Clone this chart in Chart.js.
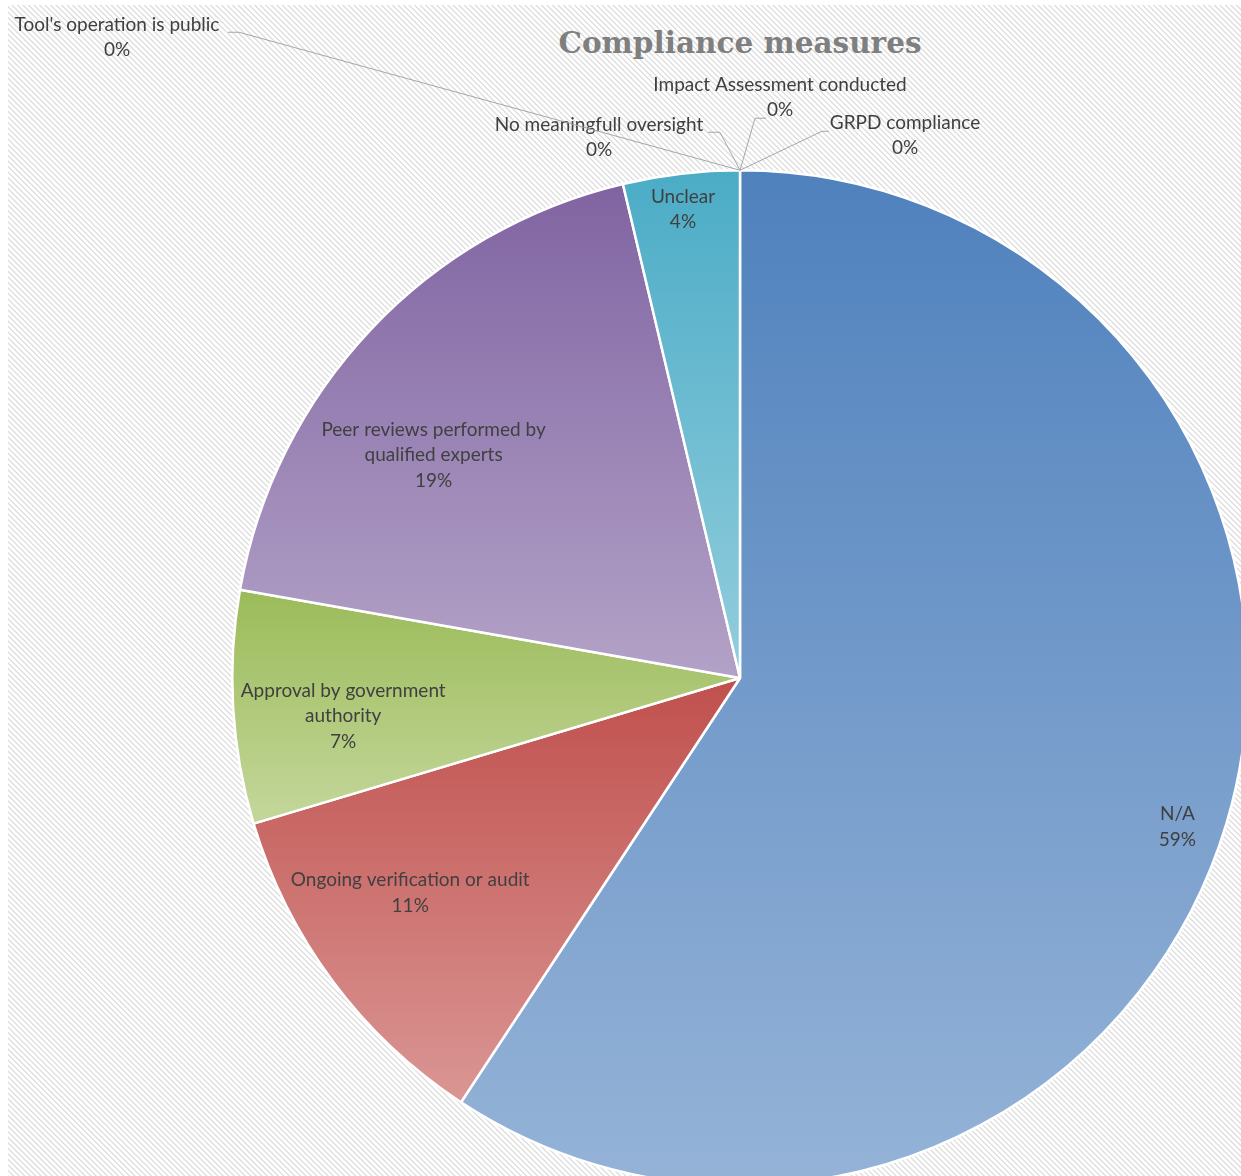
<!DOCTYPE html>
<html>
<head>
<meta charset="utf-8">
<title>Compliance measures</title>
<script src="https://cdn.jsdelivr.net/npm/chart.js@4.4.0/dist/chart.umd.min.js"></script>
<style>
body{margin:0;width:1241px;height:1176px;overflow:hidden;background:#fff;position:relative}
#bg{position:absolute;left:8px;top:5px;width:1240px;height:1180px;
background:repeating-linear-gradient(45deg,#ffffff 0px,#ffffff 1.5px,#dddddd 2.3px,#dddddd 2.8px,#ffffff 3.6px,#ffffff 3.9px)}
#title{position:absolute;left:490px;width:500px;top:26px;text-align:center;
font:bold 29.5px "DejaVu Serif";line-height:34px;color:#7f7f7f}
#wrap{position:absolute;left:0;top:0;width:1300px;height:1260px}
</style>
</head>
<body>
<div id="bg"></div>
<div id="title">Compliance measures</div>
<div id="wrap"><canvas id="pie"></canvas></div>
<script>

// categories and counts (clockwise from 12 o'clock)
const categories = [
'N/A',
'Ongoing verification or audit',
['Approval by government','authority'],
['Peer reviews performed by','qualified experts'],
'Unclear',
'No meaningfull oversight',
"Tool's operation is public",
'Impact Assessment conducted',
'GRPD compliance'
]
const counts = [16, 3, 2, 5, 1, 0, 0, 0, 0]

// each slice fades from its top colour to its bottom colour
const topColors    = ['#4f81bd','#c0504d','#9bbb59','#8064a2','#4bacc6','#f79646','#2c4d75','#772c2a','#5f7530']
const bottomColors = ['#95b3d7','#da9694','#c4d79b','#b3a2c7','#93cddd','#fac090','#8eb4e3','#e6b9b8','#d7e4bd']

// label placement inside the slices: [fraction along the arc, fraction of radius]
const labelSpot = [[0.51,0.91],[0.59,0.775],[0.42,0.785],[0.39,0.746],[0.48,0.93]]

// zero slices sit on the top edge, their labels are pulled out with leader lines
// (offsets from the point where the empty slices sit)
const zeroSpot = {
5: {dx:-141, dy:-33, stub:[[-32,-38],[-20,-38]]},
6: {dx:-623, dy:-133, stub:[[-512,-138],[-501,-138]]},
7: {dx:40, dy:-73, stub:[[26,-52],[15,-52]]},
8: {dx:165, dy:-35, stub:[[89,-39],[82,-39]]}
}

const total = counts.reduce((a,b)=>a+b,0)
const LABEL_FONT = '19px Lato'
const LINE_H = 25.5

function arcExtent(arc){
const {x, y, startAngle, endAngle, outerRadius} = arc
const ys = [y, y + outerRadius*Math.sin(startAngle), y + outerRadius*Math.sin(endAngle)]
for(let k=-2;k<=2;k++){
const down = Math.PI/2 + 2*Math.PI*k
const up = -Math.PI/2 + 2*Math.PI*k
if(down>=startAngle && down<=endAngle) ys.push(y+outerRadius)
if(up>=startAngle && up<=endAngle) ys.push(y-outerRadius)
}
return {top:Math.min(...ys), bottom:Math.max(...ys)}
}

function drawBlock(ctx, lines, cx, cy){
const h = LINE_H*(lines.length-1)
lines.forEach((t,j)=>ctx.fillText(t, cx, cy - h/2 + j*LINE_H))
}

const sliceStyle = {
id:'sliceStyle',
beforeDatasetsDraw(chart){
const ctx = chart.ctx
chart.getDatasetMeta(0).data.forEach((arc,i)=>{
const e = arcExtent(arc)
const g = ctx.createLinearGradient(0, e.top, 0, Math.max(e.bottom, e.top+1))
g.addColorStop(0, topColors[i])
g.addColorStop(1, bottomColors[i])
arc.options = Object.assign({}, arc.options, {backgroundColor:g})
})
},
afterDatasetsDraw(chart){
const ctx = chart.ctx
const arcs = chart.getDatasetMeta(0).data
ctx.save()
ctx.font = LABEL_FONT
ctx.fillStyle = '#404040'
ctx.textAlign = 'center'
ctx.textBaseline = 'middle'
arcs.forEach((arc,i)=>{
const name = categories[i]
const lines = (Array.isArray(name) ? name.slice() : [name])
lines.push(Math.round(counts[i]/total*100) + '%')
if(counts[i] > 0){
const [af, rf] = labelSpot[i]
const a = arc.startAngle + af*(arc.endAngle-arc.startAngle)
const r = rf*arc.outerRadius
drawBlock(ctx, lines, arc.x + r*Math.cos(a), arc.y + r*Math.sin(a))
} else {
const s = zeroSpot[i]
const ax = arc.x + arc.outerRadius*Math.cos(arc.startAngle)
const ay = arc.y + arc.outerRadius*Math.sin(arc.startAngle)
ctx.strokeStyle = '#a6a6a6'
ctx.lineWidth = 1
ctx.beginPath()
ctx.moveTo(ax + s.stub[0][0], ay + s.stub[0][1])
ctx.lineTo(ax + s.stub[1][0], ay + s.stub[1][1])
ctx.lineTo(ax, ay)
ctx.stroke()
drawBlock(ctx, lines, ax + s.dx, ay + s.dy)
}
})
ctx.restore()
}
}

new Chart(document.getElementById('pie'),{
type:'pie',
data:{
labels: categories,
datasets:[{
data: counts,
backgroundColor: topColors,
borderColor:'#ffffff',
borderWidth:2.5,
hoverOffset:0
}]
},
options:{
responsive:true,
maintainAspectRatio:false,
animation:false,
events:[],
layout:{padding:{left:231, top:169, right:51, bottom:73}},
plugins:{legend:{display:false}, tooltip:{enabled:false}, title:{display:false}}
},
plugins:[sliceStyle]
})

</script>
</body>
</html>
